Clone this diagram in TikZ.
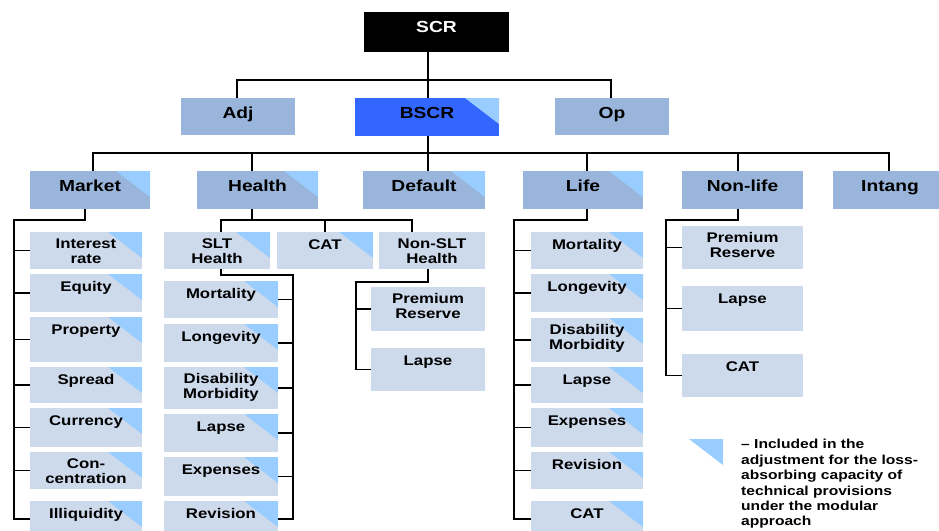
\documentclass[tikz,border=0pt]{standalone}
\usepackage{fontspec}
\setmainfont{Liberation Sans}[FakeStretch=1.2]
\definecolor{lvlc}{HTML}{9AB5DB}
\definecolor{subc}{HTML}{CCDAEC}
\definecolor{tric}{HTML}{99CCFF}
\definecolor{bscrc}{HTML}{3366FF}
\tikzset{
  boxshape/.style={draw=none, inner sep=0pt, outer sep=0pt, anchor=north west},
  bigtxt/.style={font=\fontsize{16}{18}\selectfont\bfseries, align=center, inner sep=0pt, anchor=north, yshift=-7.4pt, execute at begin node=\strut},
  smalltxt/.style={font=\fontsize{14}{15}\selectfont\bfseries, align=center, inner sep=0pt, anchor=north, yshift=-6.5pt, execute at begin node=\strut},
  conn/.style={line width=1.8pt, black},
  tri/.style={fill=tric}
}
% name, x1, y1, x2, y2, fill, text style, text
\newcommand\mybox[8]{%
  \node[boxshape, fill=#6, minimum width={(#4-#2)*1pt}, minimum height={(#5-#3)*1pt}] (#1) at (#2,#3) {};
  \node[#7] (#1-t) at (#1.north) {#8};
}
% same, with the light triangle in the top right corner
\newcommand\myboxT[8]{%
  \node[boxshape, fill=#6, minimum width={(#4-#2)*1pt}, minimum height={(#5-#3)*1pt}] (#1) at (#2,#3) {};
  \fill[tri] (#1.north east) -- ++(-34,0) -- ++(34,26) -- cycle;
  \node[#7] (#1-t) at (#1.north) {#8};
}
\begin{document}
\begin{tikzpicture}[x=1pt,y=-1pt]
\useasboundingbox (0,0) rectangle (939,530);
\clip (0,0) rectangle (939,530);
% top
\mybox{scr}{364}{12}{509}{52}{black}{bigtxt,text=white}{SCR}
\mybox{adj}{181}{98}{295}{135}{lvlc}{bigtxt}{Adj}
\myboxT{bscr}{355}{98}{499}{136}{bscrc}{bigtxt}{BSCR}
\mybox{op}{555}{98}{669}{135}{lvlc}{bigtxt}{Op}
% level 2
\myboxT{mkt}{30}{171}{150}{209}{lvlc}{bigtxt}{Market}
\myboxT{hlt}{197}{171}{318}{209}{lvlc}{bigtxt}{Health}
\myboxT{dft}{363}{171}{485}{209}{lvlc}{bigtxt}{Default}
\myboxT{life}{523}{171}{643}{209}{lvlc}{bigtxt}{Life}
\mybox{nl}{682}{171}{803}{209}{lvlc}{bigtxt}{Non-life}
\mybox{intg}{833}{171}{947}{209}{lvlc}{bigtxt}{Intang}
% market children
\myboxT{m1}{30}{232}{142}{269}{subc}{smalltxt}{Interest\\rate}
\myboxT{m2}{30}{274}{142}{312}{subc}{smalltxt}{Equity}
\myboxT{m3}{30}{317}{142}{362}{subc}{smalltxt}{Property}
\myboxT{m4}{30}{367}{142}{403}{subc}{smalltxt}{Spread}
\myboxT{m5}{30}{408}{142}{447}{subc}{smalltxt}{Currency}
\myboxT{m6}{30}{452}{142}{489}{subc}{smalltxt}{Con-\\centration}
\myboxT{m7}{30}{501}{142}{537}{subc}{smalltxt}{Illiquidity}
% health row
\myboxT{slt}{164}{232}{270}{269}{subc}{smalltxt}{SLT\\Health}
\myboxT{hcat}{277}{232}{373}{269}{subc}{smalltxt}{CAT}
\mybox{nslt}{379}{232}{485}{269}{subc}{smalltxt}{Non-SLT\\Health}
% SLT children
\myboxT{s1}{164}{281}{278}{318}{subc}{smalltxt}{Mortality}
\myboxT{s2}{164}{324}{278}{362}{subc}{smalltxt}{Longevity}
\myboxT{s3}{164}{367}{278}{409}{subc}{smalltxt}{Disability\\Morbidity}
\myboxT{s4}{164}{414}{278}{452}{subc}{smalltxt}{Lapse}
\myboxT{s5}{164}{457}{278}{496}{subc}{smalltxt}{Expenses}
\myboxT{s6}{164}{501}{278}{537}{subc}{smalltxt}{Revision}
% non-SLT children
\mybox{ns1}{371}{287}{485}{331}{subc}{smalltxt}{Premium\\Reserve}
\mybox{ns2}{371}{348}{485}{391}{subc}{smalltxt}{Lapse}
% life children
\myboxT{l1}{531}{232}{643}{269}{subc}{smalltxt}{Mortality}
\myboxT{l2}{531}{274}{643}{312}{subc}{smalltxt}{Longevity}
\myboxT{l3}{531}{318}{643}{362}{subc}{smalltxt}{Disability\\Morbidity}
\myboxT{l4}{531}{367}{643}{403}{subc}{smalltxt}{Lapse}
\myboxT{l5}{531}{408}{643}{447}{subc}{smalltxt}{Expenses}
\myboxT{l6}{531}{452}{643}{489}{subc}{smalltxt}{Revision}
\myboxT{l7}{531}{501}{643}{537}{subc}{smalltxt}{CAT}
% non-life children
\mybox{n1}{682}{226}{803}{269}{subc}{smalltxt}{Premium\\Reserve}
\mybox{n2}{682}{286}{803}{331}{subc}{smalltxt}{Lapse}
\mybox{n3}{682}{354}{803}{397}{subc}{smalltxt}{CAT}
% connectors
\coordinate (b1) at (428,80);
\coordinate (b2) at (428,153);
\draw[conn] (scr.south -| b1) -- (bscr.north -| b1);
\draw[conn] (adj.north -| 237,0) |- (b1) -| (op.north -| 611,0);
\draw[conn] (bscr.south -| b2) -- (dft.north -| b2);
\draw[conn] (mkt.north -| 93,0) |- (b2) -| (intg.north -| 889,0);
\draw[conn] (hlt.north -| 252,0) -- (252,153);
\draw[conn] (life.north -| 587,0) -- (587,153);
\draw[conn] (nl.north -| 738,0) -- (738,153);
% market tree
\draw[conn] (mkt.south -| 85,0) |- (14,220) |- (m7.west);
\foreach \c in {m1,m2,m3,m4,m5,m6}{\draw[conn] (\c.west) -- (\c.west -| 14,0);}
% health tree
\coordinate (hb) at (252,220);
\draw[conn] (hlt.south -| hb) -- (hb);
\draw[conn] (slt.north -| 221,0) |- (hb) -| (nslt.north -| 412,0);
\draw[conn] (hcat.north) -- (hcat.north |- hb);
\draw[conn] (slt.south -| 221,0) |- (293,275) |- (s6.east);
\foreach \c in {s1,s2,s3,s4,s5}{\draw[conn] (\c.east) -- (\c.east -| 293,0);}
\draw[conn] (nslt.south -| 428,0) |- (356,282) |- (ns2.west);
\draw[conn] (ns1.west) -- (ns1.west -| 356,0);
% life tree
\draw[conn] (life.south -| 587,0) |- (514,220) |- (l7.west);
\foreach \c in {l1,l2,l3,l4,l5,l6}{\draw[conn] (\c.west) -- (\c.west -| 514,0);}
% non-life tree
\draw[conn] (nl.south -| 738,0) |- (666,220) |- (n3.west);
\foreach \c in {n1,n2}{\draw[conn] (\c.west) -- (\c.west -| 666,0);}
% legend
\fill[tri] (689,439) -- (723,439) -- (723,465) -- cycle;
\node[font=\fontsize{13}{15.4}\selectfont\bfseries, align=left, inner sep=0pt, anchor=north west, execute at begin node=\strut] (legend) at (741,439.2)
  {– Included in the\\adjustment for the loss-\\absorbing capacity of\\technical provisions\\under the modular\\approach};
\end{tikzpicture}
\end{document}
